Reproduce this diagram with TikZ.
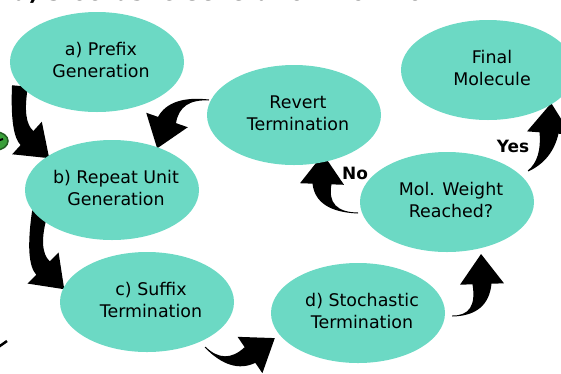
\documentclass[tikz,border=0pt]{standalone}
\usepackage{fontspec}
\setmainfont{DejaVu Sans}
\usetikzlibrary{calc,shapes.geometric}
\definecolor{myTeal}{HTML}{6CD9C4}
\definecolor{myGreen}{HTML}{3A9F3A}

% two centred lines that do not widen the ellipse
\newcommand{\twolines}[2]{\makebox[0pt]{\hspace{8bp}\begin{tabular}{@{}c@{}}#1\\#2\end{tabular}}}
% block arrow: tail, bend, head base, half width of tail
\newcommand{\bentarrow}[4]{%
  \coordinate (ta) at ($#1!#4bp!90:#2$);
  \coordinate (tb) at ($#1!#4bp!-90:#2$);
  \coordinate (ca) at ($#2!5bp+#4bp/2!90:#3$);
  \coordinate (cb) at ($#2!5bp+#4bp/2!-90:#3$);
  \coordinate (ea) at ($#3!9.5bp!-90:#2$);
  \coordinate (eb) at ($#3!9.5bp!90:#2$);
  \fill (ta) .. controls ($(ta)!2/3!(ca)$) and ($(ea)!2/3!(ca)$) .. (ea)
    -- ($#3!22bp!-90:#2$) -- ($#3!-30bp!#2$) -- ($#3!22bp!90:#2$) -- (eb)
    .. controls ($(eb)!2/3!(cb)$) and ($(tb)!2/3!(cb)$) .. (tb) -- cycle;}

\begin{document}
\begin{tikzpicture}[x=1bp, y=-1bp]
  \tikzstyle{E}=[ellipse, fill=myTeal, minimum width=174bp, minimum height=100bp, inner sep=0pt, font=\fontsize{17.5}{22}\selectfont]
  \tikzstyle{L}=[font=\bfseries\fontsize{17}{20}\selectfont]
  \useasboundingbox (0,0) rectangle (561,373);

  \node[anchor=base west, font=\bfseries\fontsize{22}{26}\selectfont] at (10,0.8) (title) {a) Stochastic Generation Workflow};

  % bits of the neighbouring panels
  \filldraw[fill=myGreen, draw=myGreen!60!black, line width=1.5bp] (-4,141) ellipse (12 and 9);
  \draw[line width=2bp] (-6,142) -- (3,139);
  \draw[line width=2.5bp] (-3,348) -- (7,341);

  \bentarrow{(20,86)}{(16,128)}{(27,138)}{8}
  \bentarrow{(209,100)}{(175,97)}{(167,120)}{0.5}
  \bentarrow{(40,212)}{(31,256)}{(43,268)}{8}
  \bentarrow{(205,347)}{(228,370)}{(250,355)}{0.5}
  \bentarrow{(452,316)}{(483,316)}{(482,284)}{0.5}
  \bentarrow{(358,213)}{(321,212)}{(322,184)}{0.5}
  \bentarrow{(528,171)}{(547,160)}{(549,133)}{0.5}

  \node[E] at (97,62) (pre) {\twolines{a) Prefix}{Generation}};
  \node[E] at (112,190) (rep) {\twolines{b) Repeat Unit}{Generation}};
  \node[E] at (147,302) (suf) {\twolines{c) Suffix}{Termination}};
  \node[E] at (358,313) (sto) {\twolines{d) Stochastic}{Termination}};
  \node[E] at (447,202) (mw) {\twolines{Mol. Weight}{Reached?}};
  \node[E] at (294,115) (rev) {\twolines{Revert}{Termination}};
  \node[E] at (488,70) (fin) {\twolines{Final}{Molecule}};

  \node[L] at (355,173) (no) {No};
  \node[L] at (513,146) (yes) {Yes};

\end{tikzpicture}
\end{document}
